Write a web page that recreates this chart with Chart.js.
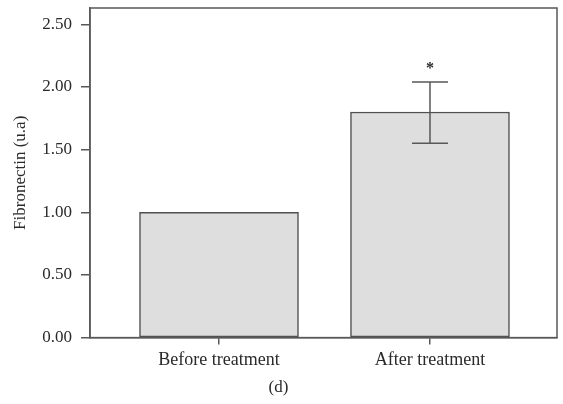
<!DOCTYPE html>
<html>
<head>
<meta charset="utf-8">
<script src="https://cdn.jsdelivr.net/npm/chart.js@4.4.0/dist/chart.umd.min.js"></script>
<style>
  html, body { margin: 0; padding: 0; background: #fff; }
  #wrap { width: 563px; height: 404px; }
</style>
</head>
<body>
<div id="wrap"><canvas id="bar-chart" width="563" height="404"></canvas></div>
<script>
// data
const categories = ['Before treatment', 'After treatment'];
const positions = [1, 2];
const fibronectin = [1.0, 1.8];
const errLow = [null, 1.55];
const errHigh = [null, 2.04];
const significant = [false, true];
const yTicks = [0, 0.5, 1, 1.5, 2, 2.5];

const lineColor = '#585858';
const textColor = '#2a2a2a';
const serif = "'Liberation Serif', 'DejaVu Serif', serif";

// error bars + asterisk, drawn through the scales
const errorBars = {
  id: 'errorBars',
  afterDatasetsDraw(chart) {
    const ctx = chart.ctx;
    const xs = chart.scales.x;
    const ys = chart.scales.y;
    ctx.save();
    ctx.strokeStyle = lineColor;
    ctx.lineWidth = 1.5;
    positions.forEach((p, i) => {
      if (errLow[i] == null) return;
      const x = xs.getPixelForValue(p);
      const yl = ys.getPixelForValue(errLow[i]);
      const yh = ys.getPixelForValue(errHigh[i]);
      ctx.beginPath();
      ctx.moveTo(x, yl); ctx.lineTo(x, yh);
      ctx.moveTo(x - 18, yl); ctx.lineTo(x + 18, yl);
      ctx.moveTo(x - 18, yh); ctx.lineTo(x + 18, yh);
      ctx.stroke();
      if (significant[i]) {
        ctx.fillStyle = textColor;
        ctx.font = 'bold 16px ' + serif;
        ctx.textAlign = 'center';
        ctx.textBaseline = 'middle';
        ctx.fillText('*', x, yh - 13);
      }
    });
    ctx.restore();
  }
};

// box around the plot area
const frame = {
  id: 'frame',
  afterDraw(chart) {
    const a = chart.chartArea;
    const ctx = chart.ctx;
    ctx.save();
    ctx.strokeStyle = lineColor;
    ctx.lineWidth = 1.5;
    ctx.strokeRect(a.left, a.top, a.right - a.left, a.bottom - a.top);
    ctx.restore();
  }
};

new Chart(document.getElementById('bar-chart'), {
  type: 'bar',
  data: {
    datasets: [{
      data: positions.map((p, i) => ({ x: p, y: fibronectin[i] })),
      backgroundColor: '#dedede',
      borderColor: '#505050',
      borderWidth: 1.5,
      borderSkipped: false,
      barThickness: 159
    }]
  },
  options: {
    responsive: false,
    animation: false,
    layout: { padding: { top: 8, right: 6, left: 0, bottom: 0 } },
    plugins: {
      legend: { display: false },
      tooltip: { enabled: false },
      title: {
        display: true,
        position: 'bottom',
        text: '(d)',
        color: textColor,
        font: { family: serif, size: 17, weight: 'normal' },
        padding: { top: 0, bottom: 6 }
      }
    },
    scales: {
      x: {
        type: 'linear',
        offset: false,
        min: 0.3886,
        max: 2.602,
        afterBuildTicks: (s) => { s.ticks = positions.map(v => ({ value: v })); },
        afterFit: (s) => { s.height = 40; s.paddingLeft = 0; s.paddingRight = 0; },
        ticks: {
          color: textColor,
          font: { family: serif, size: 18 },
          padding: 5,
          maxRotation: 0,
          autoSkip: false,
          callback: (v) => categories[positions.indexOf(v)]
        },
        grid: { offset: false, drawOnChartArea: false, drawTicks: true, tickLength: 7, color: lineColor, lineWidth: 1.5 },
        border: { display: true, color: lineColor, width: 1.5 }
      },
      y: {
        min: 0,
        max: 2.63,
        afterBuildTicks: (s) => { s.ticks = yTicks.map(v => ({ value: v })); },
        afterFit: (s) => { s.width = 90; s.paddingTop = 0; s.paddingBottom = 0; },
        ticks: {
          color: textColor,
          font: { family: serif, size: 17 },
          padding: 9,
          callback: (v) => Number(v).toFixed(2)
        },
        grid: { drawOnChartArea: false, drawTicks: true, tickLength: 9, color: lineColor, lineWidth: 1.5 },
        border: { display: true, color: lineColor, width: 1.5 },
        title: {
          display: true,
          text: 'Fibronectin (u.a)',
          color: textColor,
          font: { family: serif, size: 17 },
          padding: { top: 10, bottom: 0 }
        }
      }
    }
  },
  plugins: [errorBars, frame]
});
</script>
</body>
</html>
